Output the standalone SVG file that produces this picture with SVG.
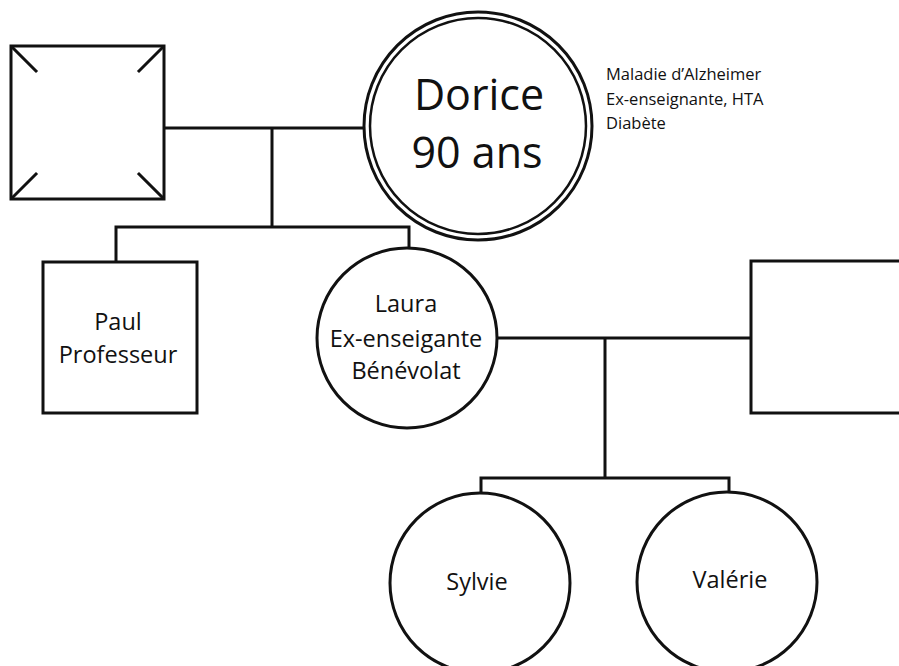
<svg xmlns="http://www.w3.org/2000/svg" width="899" height="666" viewBox="0 0 899 666">
<style>
.s{fill:#fff;stroke:#111;stroke-width:3}
.c{fill:none;stroke:#111;stroke-width:3;stroke-linecap:square}
.t{font-family:"Open Sans","Liberation Sans",sans-serif;fill:#111;text-anchor:middle}
.m{font-size:23.5px}
.n{font-family:"Open Sans","Liberation Sans",sans-serif;fill:#111;font-size:16.5px}
</style>
<rect width="899" height="666" fill="#fff"/>
<g id="connectors">
<path class="c" d="M164 128H365M272 128V227M116 227H409M116 227V262M409 227V248"/>
<path class="c" d="M497 338H751M605 338V478M481 478H729M481 478V493M729 478V493"/>
</g>
<g id="father">
<rect class="s" x="11" y="46" width="153" height="153"/>
<path class="c" d="M12 47L36 71M163 47L139 71M12 198L36 174M163 198L139 174"/>
</g>
<g id="dorice">
<circle class="s" cx="478" cy="126" r="114"/>
<circle cx="478" cy="126" r="108" fill="none" stroke="#111" stroke-width="2.5"/>
<text class="t" x="479" y="110" font-size="43">Dorice</text>
<text class="t" x="477" y="168" font-size="43">90 ans</text>
</g>
<g id="dorice-notes">
<text class="n" x="606" y="80">Maladie d’Alzheimer</text>
<text class="n" x="606" y="105">Ex-enseignante, HTA</text>
<text class="n" x="606" y="129">Diabète</text>
</g>
<g id="paul">
<rect class="s" x="43" y="262" width="154" height="151"/>
<text class="t m" x="118" y="330">Paul</text>
<text class="t m" x="118" y="363">Professeur</text>
</g>
<g id="laura">
<circle class="s" cx="407" cy="338" r="90"/>
<text class="t m" x="406" y="312">Laura</text>
<text class="t m" x="406" y="347">Ex-enseigante</text>
<text class="t m" x="406" y="379">Bénévolat</text>
</g>
<g id="husband">
<rect class="s" x="751" y="261" width="160" height="152"/>
</g>
<g id="sylvie">
<circle class="s" cx="480" cy="583" r="90"/>
<text class="t m" x="477" y="590">Sylvie</text>
</g>
<g id="valerie">
<circle class="s" cx="727" cy="582" r="90"/>
<text class="t m" x="730" y="588">Valérie</text>
</g>
</svg>
